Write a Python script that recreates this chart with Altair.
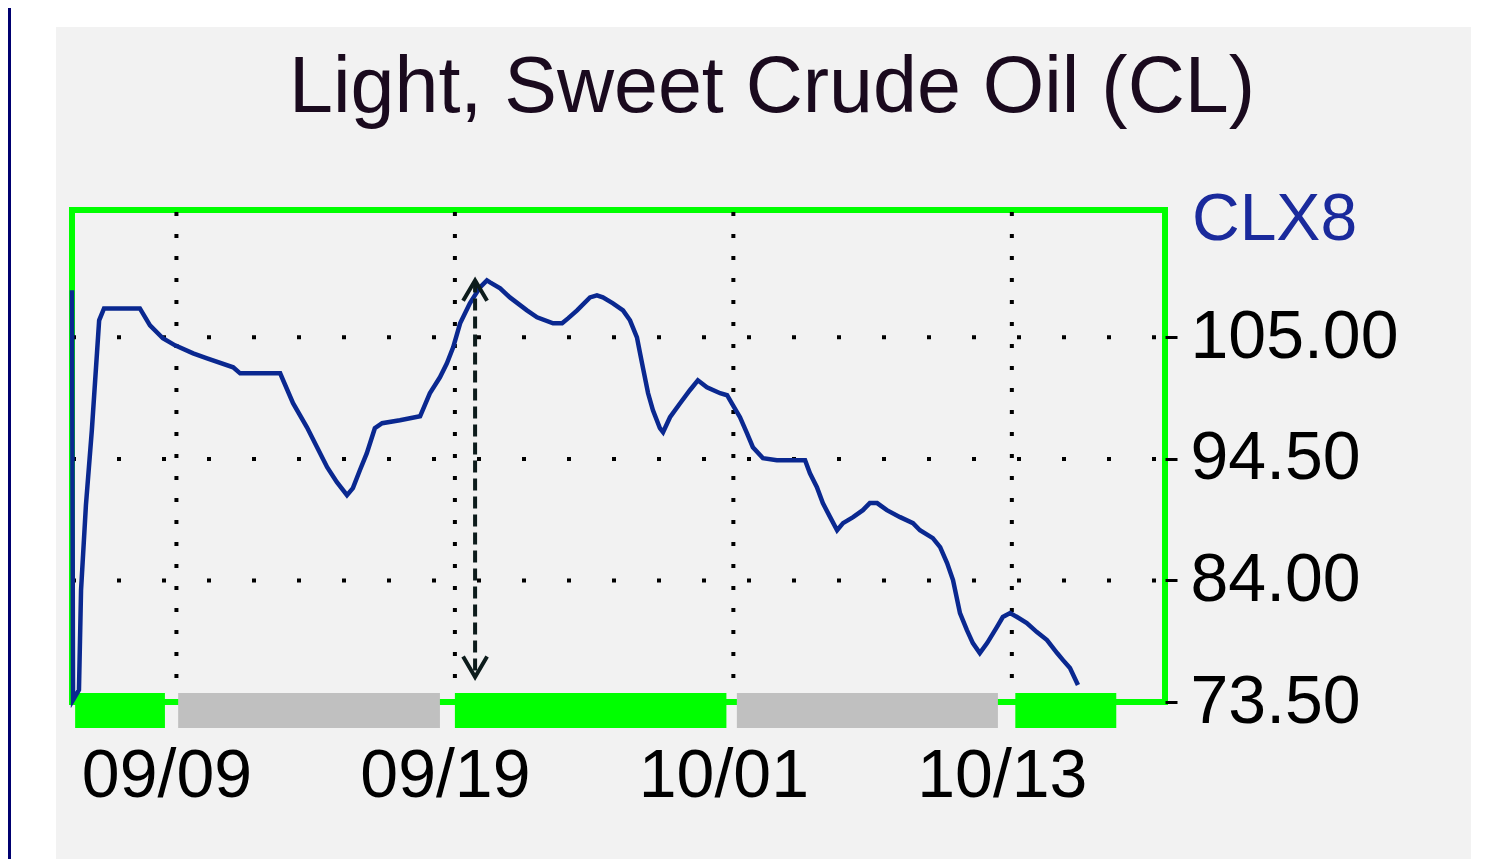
import altair as alt
import pandas as pd

# ---- data ----
days = [-3.00, -2.97, -2.80, -2.74, -2.60, -2.43, -2.22, -2.08, -1.05, -0.76,
        -0.39, -0.04, 0.48, 0.88, 1.63, 1.83, 2.98, 3.35, 3.75, 4.04,
        4.33, 4.61, 4.90, 5.07, 5.27, 5.47, 5.70, 5.91, 6.42, 7.00,
        7.28, 7.57, 7.77, 7.95, 8.15, 8.43, 8.72, 8.92, 9.01, 9.30,
        9.58, 10.07, 10.36, 10.82, 11.08, 11.25, 11.51, 11.88, 12.08, 12.25,
        12.54, 12.83, 13.03, 13.23, 13.32, 13.40, 13.55, 13.69, 13.89, 13.98,
        14.18, 14.47, 14.75, 14.98, 15.24, 15.62, 15.82, 15.99, 16.19, 16.39,
        16.56, 16.85, 17.25, 18.06, 18.20, 18.40, 18.57, 18.78, 18.98, 19.15,
        19.44, 19.72, 19.92, 20.13, 20.41, 20.79, 21.16, 21.36, 21.73, 21.94,
        22.14, 22.31, 22.51, 22.71, 22.88, 23.08, 23.29, 23.57, 23.74, 23.95,
        24.15, 24.43, 24.72, 25.01, 25.30, 25.47, 25.67, 25.90]
prices = [109.06, 73.67, 74.54, 83.17, 90.50, 96.97, 106.47, 107.50, 107.50, 106.04,
          104.92, 104.31, 103.62, 103.19, 102.41, 101.89, 101.89, 99.31, 97.23, 95.51,
          93.78, 92.49, 91.37, 91.97, 93.52, 94.99, 97.15, 97.58, 97.84, 98.18,
          100.17, 101.55, 102.76, 104.14, 106.21, 107.94, 109.32, 109.92, 109.75, 109.23,
          108.45, 107.33, 106.73, 106.21, 106.21, 106.64, 107.33, 108.45, 108.63, 108.45,
          107.94, 107.33, 106.47, 105.00, 103.62, 102.41, 100.17, 98.70, 97.15, 96.80,
          98.10, 99.31, 100.43, 101.29, 100.69, 100.17, 100.00, 99.13, 98.10, 96.72,
          95.51, 94.56, 94.39, 94.39, 93.26, 92.06, 90.68, 89.47, 88.34, 88.95,
          89.47, 90.07, 90.68, 90.68, 90.07, 89.47, 88.95, 88.34, 87.65, 86.88,
          85.50, 84.03, 81.18, 79.71, 78.59, 77.73, 78.59, 79.97, 80.84, 81.18,
          80.84, 80.32, 79.54, 78.85, 77.73, 77.12, 76.43, 74.97]

date_ticks = [0, 8, 16, 24]
date_labels = ["09/09", "09/19", "10/01", "10/13"]
price_ticks = [73.5, 84.0, 94.5, 105.0]
price_grid = [84.0, 94.5, 105.0]

band_start = [-2.91, 0.05, 8.0, 16.1, 24.1]
band_end = [-0.33, 7.57, 15.8, 23.6, 27.0]
band_kind = ["green", "gray", "green", "gray", "green"]
band_top = 74.28
band_bottom = 71.26

arrow_day = 8.58
arrow_top = 109.92
arrow_bottom = 75.66

title_text = "Light, Sweet Crude Oil (CL)"
contract_text = "CLX8"

# ---- tables ----
line_df = pd.DataFrame({"day": days, "price": prices, "order": list(range(len(days)))})
band_df = pd.DataFrame({"start": band_start, "end": band_end, "kind": band_kind,
                        "top": [band_top] * len(band_start),
                        "bottom": [band_bottom] * len(band_start)})
xgrid_df = pd.DataFrame({"day": date_ticks})
ygrid_df = pd.DataFrame({"price": price_grid})
arrow_df = pd.DataFrame({"day": [arrow_day], "top": [arrow_top], "bottom": [arrow_bottom]})
one = pd.DataFrame({"a": [0]})

W, H = 1093, 492
FONT = "Liberation Sans"

xscale = alt.Scale(domain=[-3, 28.4], nice=False, zero=False)
yscale = alt.Scale(domain=[73.5, 116.0], nice=False, zero=False)

label_expr = " : ".join(
    f"datum.value == {v} ? '{l}'" for v, l in zip(date_ticks, date_labels)
) + " : ''"

xaxis = alt.Axis(values=date_ticks, labelExpr=label_expr, grid=False, domain=False,
                 ticks=False, labelFont=FONT, labelFontSize=68, labelColor="black",
                 labelPadding=40, labelOffset=-10, title=None, labelFlush=False,
                 labelLimit=400)
yaxis = alt.Axis(orient="right", values=price_ticks, format=".2f", grid=False,
                 domain=False, tickColor="black", tickSize=12, tickWidth=3,
                 labelFont=FONT, labelFontSize=68, labelColor="black",
                 labelPadding=13, title=None, labelLimit=400)

# decorations (page frame)
white_left = alt.Chart(one).mark_rect(color="white").encode(
    x=alt.value(-64), x2=alt.value(-16), y=alt.value(-202), y2=alt.value(660))
white_top = alt.Chart(one).mark_rect(color="white").encode(
    x=alt.value(-64), x2=alt.value(1430), y=alt.value(-202), y2=alt.value(-183))
white_right = alt.Chart(one).mark_rect(color="white").encode(
    x=alt.value(1399), x2=alt.value(1430), y=alt.value(-202), y2=alt.value(660))
navy_left = alt.Chart(one).mark_rect(color="#000070").encode(
    x=alt.value(-64), x2=alt.value(-61), y=alt.value(-202), y2=alt.value(660))

# grid
xgrid = alt.Chart(xgrid_df).mark_rule(color="black", strokeWidth=4, strokeDash=[4, 18]).encode(
    x=alt.X("day:Q", scale=xscale, axis=xaxis), y=alt.value(2), y2=alt.value(480))
ygrid = alt.Chart(ygrid_df).mark_rule(color="black", strokeWidth=4, strokeDash=[4, 41]).encode(
    y=alt.Y("price:Q", scale=yscale, axis=yaxis), x=alt.value(0), x2=alt.value(W))

bands = alt.Chart(band_df).mark_rect().encode(
    x=alt.X("start:Q", scale=xscale),
    x2="end:Q",
    y=alt.Y("top:Q", scale=yscale),
    y2="bottom:Q",
    color=alt.Color("kind:N", scale=alt.Scale(domain=["green", "gray"],
                                              range=["#00ff00", "#c0c0c0"]), legend=None),
)

line = alt.Chart(line_df).mark_line(color="#0a2890", strokeWidth=4.5).encode(
    x=alt.X("day:Q", scale=xscale),
    y=alt.Y("price:Q", scale=yscale),
    order="order:Q",
)

shaft = alt.Chart(arrow_df).mark_rule(color="#0d1c1c", strokeWidth=4, strokeDash=[12, 6]).encode(
    x=alt.X("day:Q", scale=xscale),
    y=alt.Y("top:Q", scale=yscale),
    y2="bottom:Q",
)
head_up = alt.Chart(arrow_df).mark_point(shape="M-1,1.7L0,0L1,1.7", filled=False, size=576,
                                         color="#0d1c1c", strokeWidth=4, opacity=1).encode(
    x=alt.X("day:Q", scale=xscale), y=alt.Y("top:Q", scale=yscale))
head_down = alt.Chart(arrow_df).mark_point(shape="M-1,-1.7L0,0L1,-1.7", filled=False, size=576,
                                           color="#0d1c1c", strokeWidth=4, opacity=1).encode(
    x=alt.X("day:Q", scale=xscale), y=alt.Y("bottom:Q", scale=yscale))

title = alt.Chart(one).mark_text(text=title_text, font=FONT, fontSize=79, align="center",
                                 baseline="alphabetic", color="#1a0a1e").encode(
    x=alt.value(700), y=alt.value(-98))

contract = alt.Chart(one).mark_text(text=contract_text, font=FONT, fontSize=66, align="left",
                                    baseline="alphabetic", color="#1a2a9c").encode(
    x=alt.value(1120), y=alt.value(30))

chart = alt.layer(
    white_left, white_top, white_right, navy_left,
    xgrid, ygrid, bands, line, shaft, head_up, head_down,
    title, contract,
).properties(
    width=W, height=H,
    autosize=alt.AutoSizeParams(type="none"),
    padding={"left": 64, "top": 202, "right": 336, "bottom": 157},
).configure(background="#f2f2f2").configure_view(stroke="#00ff00", strokeWidth=6)

chart.save("out.html", embed_options={"renderer": "svg", "actions": False})
